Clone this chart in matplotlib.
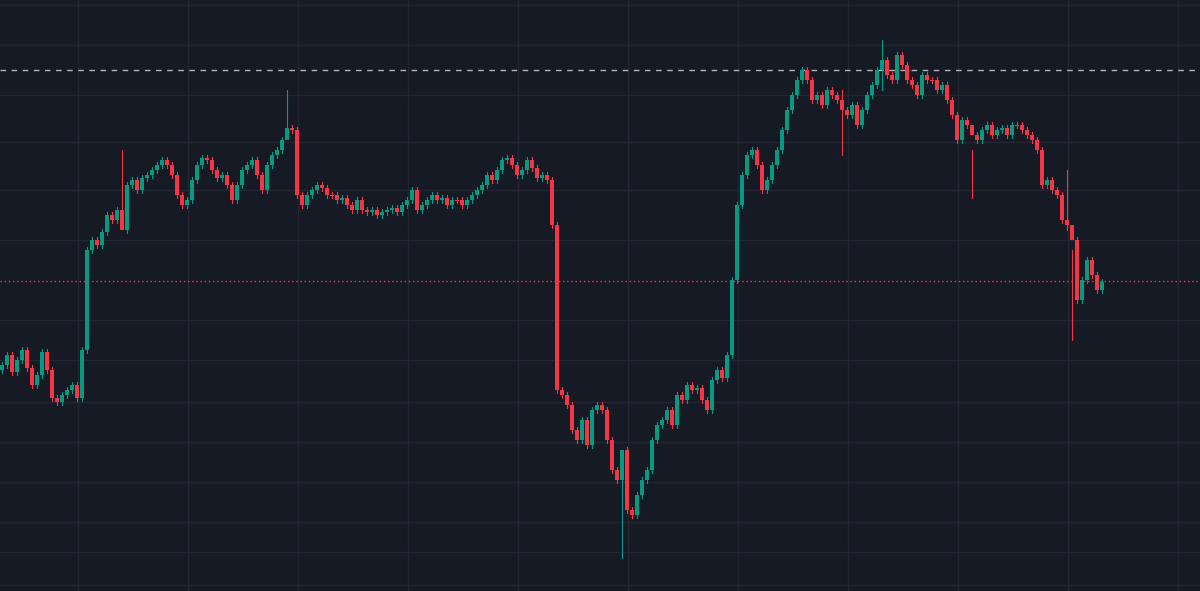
import matplotlib
matplotlib.use("Agg")
from matplotlib import pyplot as plt
from matplotlib.patches import Rectangle

# closes, in chart pixel units measured from the top (lower = higher price)
closes = [
    365, 355, 372, 360, 350, 368, 385, 375, 352, 370, 398, 402, 395, 390, 385, 398,
    350, 250,
    240, 245, 232, 215, 220, 210, 230,
    185, 180, 190, 178, 175, 170, 165, 160,
    165, 175, 195, 205, 200, 180, 165, 158,
    160, 170, 178, 175, 185, 200, 185,
    170, 165, 160, 175, 190, 165, 155, 150, 140, 128, 130,
    195, 205,
    195, 190, 185, 188, 195, 195, 200, 198, 205, 210,
    200, 210, 212, 210, 215, 212, 210, 208, 212, 205, 200, 190,
    210, 205, 200, 195, 200, 198, 205, 200, 200, 205, 200, 195,
    190, 185, 175, 180, 170, 160,
    158, 165, 175, 170, 160, 168, 178, 175, 180,
    225, 390,
    395, 405, 430, 440, 420, 445, 410, 405, 410,
    440, 470, 480, 450, 510, 515,
    495, 480, 470, 440, 425,
    420, 410, 425, 395, 400, 385, 390, 388, 400,
    410, 380, 370, 378, 355,
    280,
    205, 175, 155, 150,
    165, 190, 180, 165, 150, 130,
    110, 95, 80, 70,
    80, 100, 95, 105, 90, 95, 100, 110, 115, 105, 125, 110,
    95, 85, 70, 60, 75, 80, 55, 65,
    80, 85, 95, 75, 80, 80, 90, 85,
    100, 115, 140, 120,
    125, 135, 140, 130, 125, 135, 130, 128, 135, 125, 125, 130, 135, 140,
    150, 185, 180, 190,
    195, 220, 225, 240,
    300, 280, 260, 275, 290, 282,
]
first_open = 370
# notable wick extremes: candle index -> (high, low)
wick_overrides = {
    24: (150, 215), 57: (90, 135), 124: (480, 558), 168: (90, 155),
    176: (40, 90), 194: (150, 198), 213: (170, 230), 214: (250, 340),
}
last_price = 281
ref_level = 70

fig = plt.figure(figsize=(12, 5.91), dpi=100, facecolor="#161a25")
ax = fig.add_axes([0, 0, 1, 1], facecolor="#161a25")
ax.set_xlim(0, 1200)
ax.set_ylim(591, 0)
ax.axis("off")

for gx in range(78, 1200, 110):
    ax.axvline(gx, color="#232632", lw=1, zorder=0)
for gy in [5, 45, 95, 142, 190, 240, 320, 360, 402, 442, 482, 522, 552, 585]:
    ax.axhline(gy, color="#232632", lw=1, zorder=0)

up, down = "#089981", "#f23645"
prev = first_open
for i, c in enumerate(closes):
    o = prev
    x = i * 5 + 2
    col = up if c < o else down
    hi, lo = min(o, c) - 3, max(o, c) + 3
    if i in wick_overrides:
        hi, lo = wick_overrides[i]
    ax.plot([x, x], [hi, lo], color=col, lw=0.8, zorder=2)
    h = max(abs(c - o), 1)
    ax.add_patch(Rectangle((x - 1.8, min(o, c)), 3.6, h, color=col, lw=0, zorder=3))
    prev = c

ax.axhline(ref_level, color="#b2b5be", lw=1, ls=(0, (4, 4)), zorder=1)
ax.axhline(last_price, color=down, lw=1, ls=(0, (1, 2)), zorder=1)

fig.savefig("out.png", dpi=100, facecolor=fig.get_facecolor())
